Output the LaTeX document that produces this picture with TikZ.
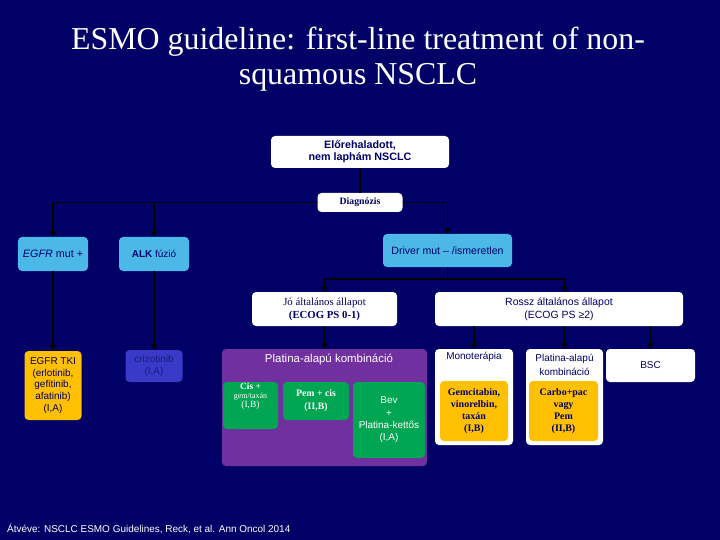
\documentclass[tikz,border=0pt]{standalone}
\usepackage{fontspec}
\setmainfont{Liberation Serif}
\newfontfamily\arialf{Liberation Sans}
\usetikzlibrary{arrows.meta}
\definecolor{bg}{RGB}{0,0,102}
\definecolor{navy}{RGB}{0,0,102}
\definecolor{lblue}{RGB}{76,184,232}
\definecolor{gold}{RGB}{255,192,0}
\definecolor{purp}{RGB}{112,48,160}
\definecolor{grn}{RGB}{0,166,81}
\definecolor{cblue}{RGB}{58,58,200}
\definecolor{ctext}{RGB}{24,24,130}
\tikzset{
  box/.style={rounded corners=4bp, inner sep=0pt, align=center, text=navy},
  wh/.style 2 args={minimum width=#1bp, minimum height=#2bp},
  wbox/.style={box, fill=white},
  lbox/.style={box, fill=lblue},
  obox/.style={box, fill=gold},
  gbox/.style={box, fill=grn, text=white},
  sans/.style={font=\arialf\fontsize{10}{12}\selectfont},
  serif/.style={font=\fontsize{10}{12}\selectfont},
  conn/.style={draw=black, line width=1.8bp},
  arr/.style={conn, -{Triangle[length=5.5bp,width=6.5bp]}},
}
\begin{document}
\begin{tikzpicture}[x=1bp,y=-1bp]
\useasboundingbox[fill=bg] (0,0) rectangle (720,540);
% title
\node[anchor=base, text=white, font=\fontsize{32}{35}\selectfont] (t1) at (358,50) {ESMO guideline: first-line treatment of non-};
\node[anchor=base, text=white, font=\fontsize{32}{35}\selectfont] (t2) at (358,85) {squamous NSCLC};
% top
\node[wbox, wh={178}{32}, font=\arialf\bfseries\fontsize{10.8}{12}\selectfont] (elo) at (360,152) {Előrehaladott,\\nem laphám NSCLC};
\node[wbox, wh={85}{19}, font=\bfseries\fontsize{9.8}{11}\selectfont] (diag) at (360,202.5) {Diagnózis};
% level 2
\node[lbox, wh={70}{34}, font=\arialf\fontsize{10.8}{12}\selectfont] (egfr) at (53,254) {\itshape EGFR\upshape{} mut +};
\node[lbox, wh={70}{34}, sans] (alk) at (154,254) {\bfseries ALK\mdseries{} fúzió};
\node[lbox, wh={129}{33}, font=\arialf\fontsize{10.6}{12}\selectfont] (driver) at (447.5,250.5) {Driver mut – /ismeretlen};
% level 3
\node[wbox, wh={145}{34}, font=\fontsize{10.8}{13}\selectfont] (jo) at (324.5,309) {Jó általános állapot\\\bfseries(ECOG PS 0-1)};
\node[wbox, wh={248}{34}, font=\arialf\fontsize{10.5}{13}\selectfont] (rossz) at (559,309) {Rossz általános állapot\\(ECOG PS ≥2)};
% left treatments
\node[obox, wh={57}{69}, font=\arialf\fontsize{10}{11.7}\selectfont] (tki) at (53,385.5) {EGFR TKI\\(erlotinib,\\gefitinib,\\afatinib)\\(I,A)};
\node[box, fill=cblue, text=ctext, wh={57}{32}, sans] (crizo) at (154,366) {crizotinib\\(I,A)};
% purple group
\node[box, fill=purp, wh={205}{117}] (purple) at (324.5,407.5) {};
\node[text=white, font=\arialf\fontsize{11.5}{13}\selectfont, inner sep=0pt] (purpt) at (329,359) {Platina-alapú kombináció};
\node[gbox, wh={55}{47}] (cis) at (250.5,405.5) {};
\node[text=white, align=center, inner sep=0pt, font=\fontsize{9.5}{9}\selectfont] (cist) at (250.5,396) {\bfseries Cis +\\{\fontsize{8}{9}\selectfont gem/taxán}\\(I,B)};
\node[gbox, wh={66}{38}, font=\bfseries\fontsize{9.8}{13}\selectfont] (pem) at (316,401) {Pem + cis\\(II,B)};
\node[gbox, wh={72}{76}, font=\arialf\fontsize{10}{12.4}\selectfont] (bev) at (389,420) {Bev\\+\\Platina-kettős\\(I,A)};
% right treatments
\node[wbox, wh={78}{96}] (mono) at (474,397) {};
\node[text=navy, sans, inner sep=0pt] (monot) at (474,357) {Monoterápia};
\node[obox, wh={68}{60}, font=\bfseries\fontsize{10}{12}\selectfont] (monoin) at (474,411) {Gemcitabin,\\vinorelbin,\\taxán\\(I,B)};
\node[wbox, wh={77}{96}] (plat2) at (564.5,397) {};
\node[text=navy, align=center, inner sep=0pt, font=\arialf\fontsize{10}{13.5}\selectfont] (plat2t) at (564.5,365) {Platina-alapú\\kombináció};
\node[obox, wh={69}{60}, font=\bfseries\fontsize{10}{12}\selectfont] (plat2in) at (563.5,411) {Carbo+pac\\vagy\\Pem\\(II,B)};
\node[wbox, wh={89}{33}, sans] (bsc) at (650.5,365.5) {BSC};
% footer
\node[anchor=base west, text=white, inner sep=0pt, sans] (src) at (7,532) {Átvéve: NSCLC ESMO Guidelines, Reck, et al. Ann Oncol 2014};
% connectors
\draw[conn] (elo.south) -- (diag.north);
\draw[arr] (diag.west) -| (egfr.north);
\draw[arr] (diag.west) -| (alk.north);
\draw[arr] (diag.east) -| (driver.north);
\draw[arr] (egfr.south) -- (tki.north);
\draw[arr] (alk.south) -- (crizo.north);
\draw[conn] (driver.south) -- ++(0,12) coordinate (dj);
\draw[arr] (dj) -| (jo.north);
\draw[arr] (dj) -| (rossz.north -| plat2.north);
\draw[arr] (jo.south) -- (purple.north);
\draw[arr] (rossz.south -| mono.north) -- (mono.north);
\draw[arr] (rossz.south -| plat2.north) -- (plat2.north);
\draw[arr] (rossz.south -| bsc.north) -- (bsc.north);
\end{tikzpicture}
\end{document}
